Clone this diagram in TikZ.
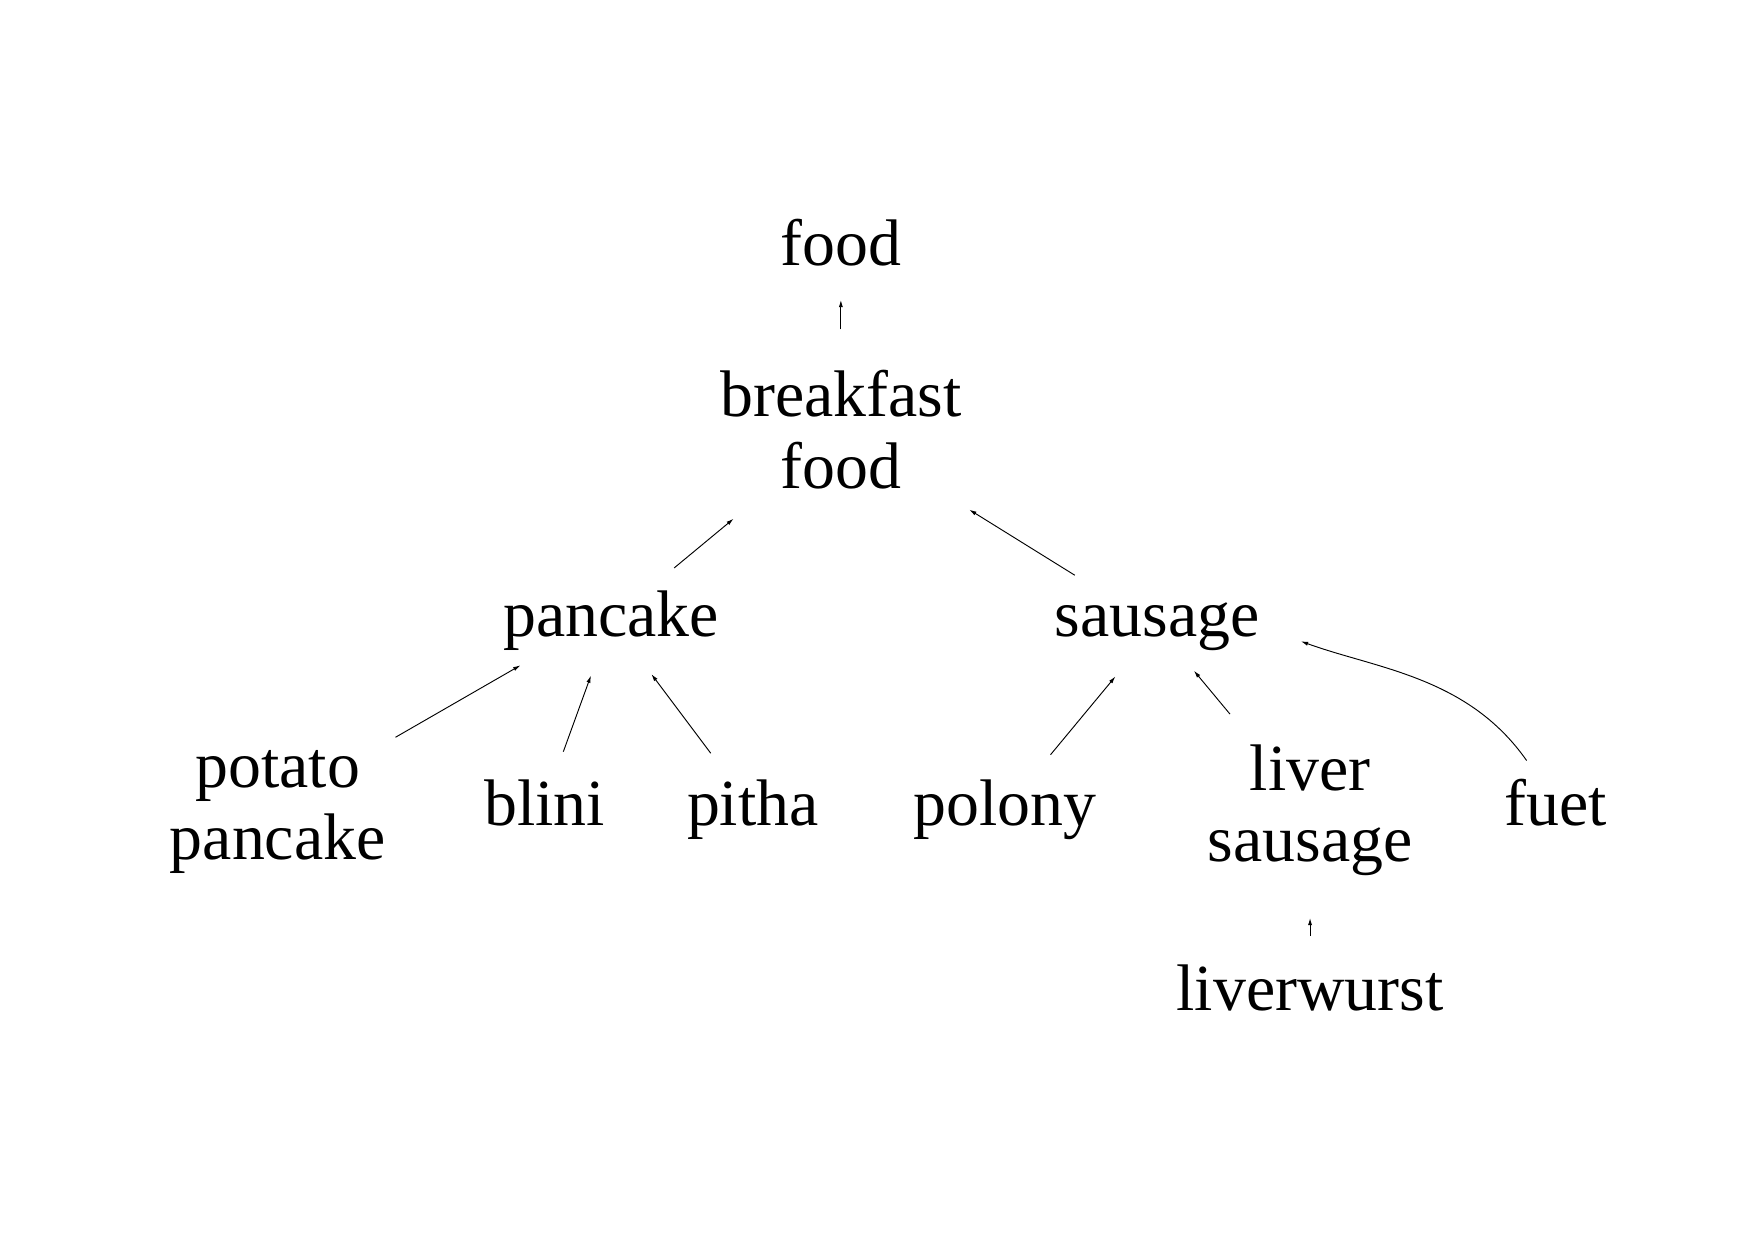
\documentclass[tikz,border=0pt]{standalone}
\usepackage{fontspec}
\setmainfont{Liberation Serif}
\usetikzlibrary{arrows.meta}

\begin{document}
\begin{tikzpicture}[
    word/.style={font=\fontsize{31.7pt}{34.5pt}\selectfont, inner sep=0pt, align=center},
    isa/.style={-{Latex[length=3.5pt,width=2pt]}, line width=0.45pt}
]
    \useasboundingbox (0,0) rectangle (29.7,20.985);

    % Top levels
    \node[word, anchor=base] (food) at (14.23,16.49) {food};
    \node[word] (breakfast) at (14.23,13.71) {breakfast\\food};

    % Middle level
    \node[word, anchor=base] (pancake) at (10.34,10.22) {pancake};
    \node[word, anchor=base] (sausage) at (19.58,10.22) {sausage};

    % Leaves
    \node[word] (potato) at (4.70,7.24) {potato\\pancake};
    \node[word, anchor=base] (blini) at (9.22,7.02) {blini};
    \node[word, anchor=base] (pitha) at (12.74,7.02) {pitha};
    \node[word, anchor=base] (polony) at (17.01,7.02) {polony};
    \node[word] (liver) at (22.17,7.27) {liver\\sausage};
    \node[word, anchor=base] (fuet) at (26.33,7.02) {fuet};
    \node[word, anchor=base] (liverwurst) at (22.17,3.88) {liverwurst};

    % Is-a links
    \draw[isa, shorten <=1.70cm, shorten >=0.968cm] (breakfast.center) -- (food.center);
    \draw[isa, shorten <=1.389cm, shorten >=2.357cm] (pancake.center) -- (breakfast.center);
    \draw[isa, shorten <=1.638cm, shorten >=2.558cm] (sausage.center) -- (breakfast.center);
    \draw[isa, shorten <=2.30cm, shorten >=1.769cm] ([yshift=0.12cm]potato.center) -- ([yshift=0.12cm]pancake.center);
    \draw[isa, shorten <=0.919cm, shorten >=0.995cm] (blini.center) -- (pancake.center);
    \draw[isa, shorten <=1.187cm, shorten >=1.139cm] (pitha.center) -- (pancake.center);
    \draw[isa, shorten <=1.203cm, shorten >=1.102cm] (polony.center) -- (sausage.center);
    \draw[isa, shorten <=2.12cm, shorten >=0.977cm] (liver.center) -- (sausage.center);
    \draw[isa, shorten <=0.37cm, shorten >=0.74cm] (fuet) to[out=125, in=-20] (sausage.east);
    \draw[isa, shorten <=0.88cm, shorten >=0.70cm] (liverwurst.center) -- (liver);
\end{tikzpicture}
\end{document}
